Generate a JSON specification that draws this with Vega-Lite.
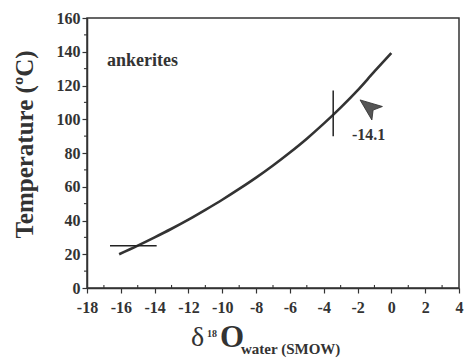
{
  "$schema": "https://vega.github.io/schema/vega-lite/v6.json",
  "width": 372,
  "height": 270,
  "autosize": {"type": "none"},
  "padding": {"left": 87, "top": 18, "right": 5, "bottom": 74},
  "background": "white",
  "config": {
    "view": {"stroke": "#333", "strokeWidth": 1.5},
    "font": "Liberation Serif",
    "axis": {
      "domainColor": "#333",
      "domainWidth": 1.5,
      "tickColor": "#333",
      "tickWidth": 1.2,
      "tickSize": 5,
      "labelFont": "Liberation Serif",
      "labelFontWeight": "bold",
      "labelFontSize": 16,
      "labelColor": "#333",
      "labelOverlap": false,
      "labelFlush": false,
      "grid": false,
      "titleFont": "Liberation Serif",
      "titleColor": "#333"
    }
  },
  "datasets": {
    "curve": [
      {"x": -16.1, "t": 20.0}, {"x": -15, "t": 25.1}, {"x": -14, "t": 30.0}, {"x": -13, "t": 35.1},
      {"x": -12, "t": 40.5}, {"x": -11, "t": 46.3}, {"x": -10, "t": 52.3}, {"x": -9, "t": 58.7},
      {"x": -8, "t": 65.4}, {"x": -7, "t": 72.6}, {"x": -6, "t": 80.3}, {"x": -5, "t": 88.5},
      {"x": -4, "t": 97.4}, {"x": -3, "t": 106.9}, {"x": -2, "t": 117.1}, {"x": -1, "t": 128.3},
      {"x": 0, "t": 139.2}
    ],
    "bars": [
      {"x": -16.64, "x2": -13.88, "t": 25, "t2": 25},
      {"x": -3.44, "x2": -3.44, "t": 90, "t2": 117}
    ],
    "minor": [
      {"x": -17, "x2": -17, "t": 0, "t2": 1.8},
      {"x": -15, "x2": -15, "t": 0, "t2": 1.8},
      {"x": -13, "x2": -13, "t": 0, "t2": 1.8},
      {"x": -11, "x2": -11, "t": 0, "t2": 1.8},
      {"x": -9, "x2": -9, "t": 0, "t2": 1.8},
      {"x": -7, "x2": -7, "t": 0, "t2": 1.8},
      {"x": -5, "x2": -5, "t": 0, "t2": 1.8},
      {"x": -3, "x2": -3, "t": 0, "t2": 1.8},
      {"x": -1, "x2": -1, "t": 0, "t2": 1.8},
      {"x": 1, "x2": 1, "t": 0, "t2": 1.8},
      {"x": 3, "x2": 3, "t": 0, "t2": 1.8},
      {"x": -18.18, "x2": -18, "t": 10, "t2": 10},
      {"x": -18.18, "x2": -18, "t": 30, "t2": 30},
      {"x": -18.18, "x2": -18, "t": 50, "t2": 50},
      {"x": -18.18, "x2": -18, "t": 70, "t2": 70},
      {"x": -18.18, "x2": -18, "t": 90, "t2": 90},
      {"x": -18.18, "x2": -18, "t": 110, "t2": 110},
      {"x": -18.18, "x2": -18, "t": 130, "t2": 130},
      {"x": -18.18, "x2": -18, "t": 150, "t2": 150}
    ]
  },
  "layer": [
    {
      "data": {"name": "curve"},
      "mark": {"type": "line", "stroke": "#333", "strokeWidth": 2.6, "interpolate": "monotone"},
      "encoding": {
        "x": {
          "field": "x", "type": "quantitative",
          "scale": {"domain": [-18, 4], "nice": false, "zero": false},
          "axis": {
            "title": null,
            "values": [-18,-16,-14,-12,-10,-8,-6,-4,-2,0,2,4],
            "tickCount": 40,
            "format": "d",
            "labelExpr": "replace(datum.label, '\u2212', '-')",
            "labelFont": "Liberation Serif",
            "labelFontWeight": "bold",
            "tickSize": 5,
            "labelPadding": 6,
            "labelFlush": false,
            "labelOverlap": false
          }
        },
        "y": {
          "field": "t", "type": "quantitative",
          "scale": {"domain": [0, 160], "nice": false},
          "axis": {
            "title": "Temperature (ºC)",
            "titleFontSize": 25,
            "titleFontWeight": "bold",
            "titleAngle": -90,
            "titleAlign": "center",
            "titleBaseline": "alphabetic",
            "titleX": -55,
            "titleY": 126,
            "values": [0,20,40,60,80,100,120,140,160],
            "tickCount": 40,
            "format": "d",
            "labelFont": "Liberation Serif",
            "labelFontWeight": "bold",
            "tickSize": 5,
            "labelPadding": 2,
            "labelFlush": false,
            "labelOverlap": false
          }
        }
      }
    },
    {
      "data": {"name": "minor"},
      "mark": {"type": "rule", "stroke": "#333", "strokeWidth": 1.1, "clip": false},
      "encoding": {
        "x": {"field": "x", "type": "quantitative"},
        "x2": {"field": "x2"},
        "y": {"field": "t", "type": "quantitative"},
        "y2": {"field": "t2"}
      }
    },
    {
      "data": {"name": "bars"},
      "mark": {"type": "rule", "stroke": "#222", "strokeWidth": 1.5},
      "encoding": {
        "x": {"field": "x", "type": "quantitative"},
        "x2": {"field": "x2"},
        "y": {"field": "t", "type": "quantitative"},
        "y2": {"field": "t2"}
      }
    },
    {
      "data": {"values": [{"x": -1.32, "t": 107.3}]},
      "mark": {"type": "point", "shape": "M0,-1 L0.75,0.9 L0,0.45 L-0.75,0.9 Z", "filled": true, "fill": "#555", "stroke": "#333", "strokeWidth": 0.8, "opacity": 1, "size": 520, "angle": 308},
      "encoding": {
        "x": {"field": "x", "type": "quantitative"},
        "y": {"field": "t", "type": "quantitative"}
      }
    },
    {
      "data": {"values": [{"x": -16.82, "t": 131.6, "label": "ankerites"}]},
      "mark": {"type": "text", "align": "left", "baseline": "alphabetic", "font": "Liberation Serif", "fontWeight": "bold", "fontSize": 18, "fill": "#333"},
      "encoding": {
        "x": {"field": "x", "type": "quantitative"},
        "y": {"field": "t", "type": "quantitative"},
        "text": {"field": "label"}
      }
    },
    {
      "data": {"values": [{"x": -2.33, "t": 87.7, "label": "-14.1"}]},
      "mark": {"type": "text", "align": "left", "baseline": "alphabetic", "font": "Liberation Serif", "fontWeight": "bold", "fontSize": 16, "fill": "#333"},
      "encoding": {
        "x": {"field": "x", "type": "quantitative"},
        "y": {"field": "t", "type": "quantitative"},
        "text": {"field": "label"}
      }
    },
    {
      "data": {"values": [{"x": -11.85, "t": -34.4, "label": "δ"}]},
      "mark": {"type": "text", "align": "left", "baseline": "alphabetic", "font": "Liberation Serif", "fontSize": 28, "fill": "#333", "clip": false},
      "encoding": {
        "x": {"field": "x", "type": "quantitative"},
        "y": {"field": "t", "type": "quantitative"},
        "text": {"field": "label"}
      }
    },
    {
      "data": {"values": [{"x": -10.9, "t": -29, "label": "18"}]},
      "mark": {"type": "text", "align": "left", "baseline": "alphabetic", "font": "Liberation Serif", "fontWeight": "bold", "fontSize": 10, "fill": "#333", "clip": false},
      "encoding": {
        "x": {"field": "x", "type": "quantitative"},
        "y": {"field": "t", "type": "quantitative"},
        "text": {"field": "label"}
      }
    },
    {
      "data": {"values": [{"x": -10.13, "t": -35, "label": "O"}]},
      "mark": {"type": "text", "align": "left", "baseline": "alphabetic", "font": "Liberation Serif", "fontWeight": "bold", "fontSize": 31, "fill": "#333", "clip": false},
      "encoding": {
        "x": {"field": "x", "type": "quantitative"},
        "y": {"field": "t", "type": "quantitative"},
        "text": {"field": "label"}
      }
    },
    {
      "data": {"values": [{"x": -8.89, "t": -39.1, "label": "water (SMOW)"}]},
      "mark": {"type": "text", "align": "left", "baseline": "alphabetic", "font": "Liberation Serif", "fontWeight": "bold", "fontSize": 15, "fill": "#333", "clip": false},
      "encoding": {
        "x": {"field": "x", "type": "quantitative"},
        "y": {"field": "t", "type": "quantitative"},
        "text": {"field": "label"}
      }
    }
  ]
}
